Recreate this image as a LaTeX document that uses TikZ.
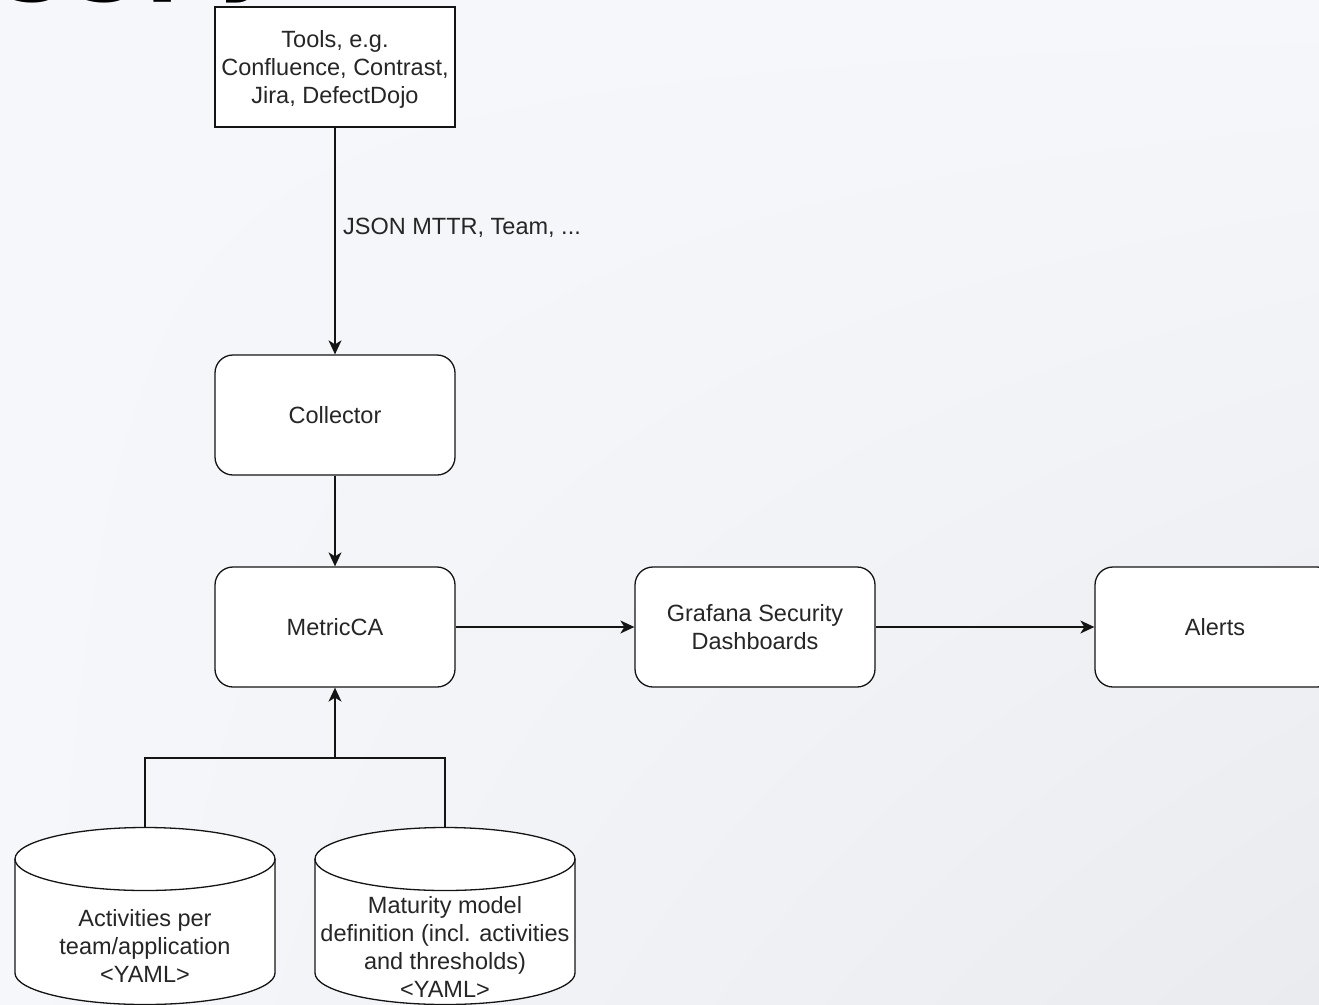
\documentclass[tikz,border=0pt]{standalone}
\usepackage{fontspec}
\setmainfont{Liberation Sans}
\newfontfamily\titlefont{DejaVu Sans}
\usetikzlibrary{arrows.meta,shadings}
\definecolor{bgA}{HTML}{F6F7FB}
\definecolor{bgB}{HTML}{EAEBEF}
\definecolor{ink}{HTML}{141414}
\definecolor{txt}{HTML}{262626}
\begin{document}
\begin{tikzpicture}[x=1pt,y=1pt,
  box/.style={draw=ink, line width=1.3pt, fill=white, minimum width=240pt, minimum height=120pt,
    inner sep=0pt, align=center, font=\fontsize{23.5}{28}\selectfont, text=txt},
  rbox/.style={box, rounded corners=18pt},
  conn/.style={line width=1.3pt, draw=ink},
  arr/.style={conn, -{Stealth[length=14pt,width=13pt,inset=4pt]}},
  lbl/.style={font=\fontsize{23.5}{28}\selectfont, text=txt, inner sep=0pt, align=center},
  cylstyle/.style={draw=ink, line width=1.3pt, fill=white}]
\clip (0,0) rectangle (1319,-1004);
\shade[upper left=bgA, upper right=bgA, lower left=bgA, lower right=bgB] (0,0) rectangle (1319,-1004);
% title fragment
\node[font=\titlefont\bfseries\fontsize{100}{100}\selectfont, anchor=base east, inner sep=0pt, text=black] (ttl) at (282,18.5) {ggpy};
% boxes
\node[box] (tools) at (335,-67) {};
\node[lbl] (toolst) at (335,-69.5) {Tools, e.g.\\Confluence, Contrast,\\Jira, DefectDojo};
\node[rbox] (coll) at (335,-415) {Collector};
\node[rbox] (mca) at (335,-627) {MetricCA};
\node[rbox] (graf) at (755,-627) {Grafana Security\\Dashboards};
\node[rbox] (alert) at (1215,-627) {Alerts};
\node[lbl, anchor=west] (jl) at (343,-228) {JSON MTTR, Team, ...};
% cylinders
\draw[cylstyle] (15,-859) -- (15,-973) arc[start angle=180,end angle=360,x radius=130pt,y radius=31.5pt]
  -- (275,-859) arc[start angle=0,end angle=180,x radius=130pt,y radius=31.5pt] -- cycle;
\draw[conn] (15,-859) arc[start angle=180,end angle=360,x radius=130pt,y radius=31.5pt];
\draw[cylstyle] (315,-859) -- (315,-973) arc[start angle=180,end angle=360,x radius=130pt,y radius=31.5pt]
  -- (575,-859) arc[start angle=0,end angle=180,x radius=130pt,y radius=31.5pt] -- cycle;
\draw[conn] (315,-859) arc[start angle=180,end angle=360,x radius=130pt,y radius=31.5pt];
\node[lbl] (act) at (145,-946) {Activities per\\team/application\\<YAML>};
\node[lbl] (mat) at (445,-946.5) {Maturity model\\definition (incl. activities\\and thresholds)\\<YAML>};
\coordinate (c1top) at (145,-827.5);
\coordinate (c2top) at (445,-827.5);
\coordinate (j) at (335,-758);
% connectors
\draw[arr] (tools.south) -- (coll.north);
\draw[arr] (coll.south) -- (mca.north);
\draw[arr] (mca.east) -- (graf.west);
\draw[arr] (graf.east) -- (alert.west);
\draw[conn] (c1top) |- (j);
\draw[conn] (c2top) |- (j);
\draw[arr] (j) -- (mca.south);
\end{tikzpicture}
\end{document}
